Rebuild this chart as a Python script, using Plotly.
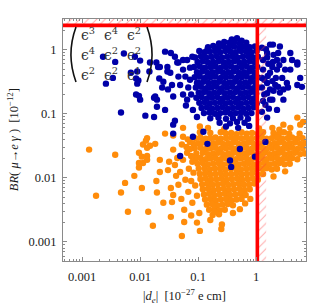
import plotly.graph_objects as go

# ---- data: values, as [log10 |d_e| (1e-27 e cm), log10 BR (1e-12)] ----
blue_sparse = [
    [-2.64,-0.11],[-2.43,-0.19],[-2.28,-0.06],[-2.09,-0.11],[-2.00,-0.17],[-2.16,-0.36],[-2.05,-0.34],
    [-2.47,-0.44],[-2.59,-0.53],[-2.07,-0.45],[-2.03,-0.48],[-2.05,-0.53],[-1.84,-0.34],[-1.83,-0.20],
    [-1.72,-0.20],[-1.69,-0.27],[-1.67,-0.45],[-2.07,-0.70],[-2.02,-0.72],[-2.00,-0.78],[-1.76,-0.75],
    [-1.71,-0.78],[-1.71,-0.89],[-2.33,-0.98],[-1.91,-1.03],[-1.76,-1.05],
    [-1.57,-0.03],[-1.47,-0.05],[-1.40,-0.11],[-1.66,-0.27],[-1.53,-0.27],[-1.34,-0.20],[-1.19,-0.16],
    [-1.10,-0.11],[-0.84,0.00],[-1.26,-0.31],[-1.48,-0.36],[-1.34,-0.42],[-1.60,-0.50],[-1.45,-0.55],
    [-1.31,-0.55],[-1.62,-0.59],[-1.52,-0.62],[-1.14,-0.47],[-1.26,-0.70],[-1.74,-0.73],[-1.02,-0.52],
    [-1.57,-0.94],[-1.40,-1.11],[-1.43,-1.17],[-1.43,-1.31],[-1.09,-1.36],[-0.84,-1.47],[-1.31,-1.66],
    [-0.52,-1.20],[-0.28,-1.55],[-0.02,-1.67],[-0.45,-1.73],[-0.43,-1.83],[0.16,-1.44],[-0.31,-1.22],
    [-0.12,-1.19],[-0.91,-1.28],[-1.53,-0.34],[-1.36,-0.20],[-1.26,-0.16],[-1.19,-0.78],[-1.09,-0.94],
    [-1.22,-0.42],[-1.02,-1.05],[-1.43,-0.73],[-1.17,-0.59],[-1.14,-0.28],[-1.21,-0.87],[-1.12,-0.70],
    [0.24,0.08],[0.29,0.08],[0.19,-0.05],[0.38,-0.05],[0.59,-0.05],[0.29,-0.19],[0.47,-0.16],
    [0.36,-0.31],[0.59,-0.31],[0.71,-0.23],[0.76,-0.44],[0.45,-0.44],[0.53,-0.52],[0.24,-0.36],
    [0.19,-0.52],[0.24,-0.62],[0.41,-0.67],[0.55,-0.59],[0.79,-0.58],[0.71,-0.20],[0.71,-0.55],
    [0.47,-0.78],[0.36,-0.94],[0.19,-1.06],[0.12,-0.16],[0.12,-0.31],[0.14,-0.47],[0.14,-0.70],
    [0.16,-0.86],[0.10,-0.97],[0.28,-0.78],[0.33,-0.55],[0.50,-0.31],[0.10,0.03],[0.41,0.05],
    [0.62,-0.16],[0.21,-0.22],[0.36,-0.16],[0.10,-0.59],[0.24,-0.78],[0.34,-0.44],[0.10,-0.44],
    [0.47,-0.62],[0.19,-0.12],[0.28,-0.27],[0.20,-0.41],[0.28,-0.49],[0.19,-0.68],[0.30,-0.64],
    [0.12,-0.80],[0.22,-0.92],[0.40,-0.24],[0.30,-0.08],[0.17,0.01],[0.38,-0.58],
]

blue_core = [
    [-0.42,0.16],[-0.33,0.18],[-0.25,0.14],
    [-0.64,0.10],[-0.55,0.12],[-0.46,0.11],[-0.37,0.12],[-0.28,0.10],[-0.17,0.11],
    [-0.83,0.04],[-0.74,0.06],[-0.65,0.03],[-0.56,0.05],[-0.47,0.04],[-0.38,0.05],[-0.29,0.03],
    [-0.20,0.05],[-0.11,0.04],[-0.02,0.05],
    [-0.98,-0.02],[-0.89,-0.04],[-0.80,-0.03],[-0.71,-0.02],[-0.62,-0.04],[-0.53,-0.02],[-0.44,-0.03],
    [-0.35,-0.04],[-0.26,-0.02],[-0.17,-0.03],[-0.08,-0.04],[0.01,-0.02],
    [-1.05,-0.12],[-0.95,-0.10],[-0.86,-0.12],[-0.77,-0.11],[-0.68,-0.10],[-0.59,-0.12],[-0.50,-0.11],
    [-0.41,-0.10],[-0.32,-0.12],[-0.23,-0.11],[-0.14,-0.10],[-0.05,-0.12],[0.03,-0.11],
    [-1.01,-0.19],[-0.92,-0.18],[-0.83,-0.20],[-0.74,-0.19],[-0.65,-0.18],[-0.56,-0.20],[-0.47,-0.19],
    [-0.38,-0.18],[-0.29,-0.20],[-0.20,-0.19],[-0.11,-0.18],[-0.02,-0.20],
    [-1.07,-0.27],[-0.97,-0.26],[-0.88,-0.28],[-0.79,-0.27],[-0.70,-0.26],[-0.61,-0.28],[-0.52,-0.27],
    [-0.43,-0.26],[-0.34,-0.28],[-0.25,-0.27],[-0.16,-0.26],[-0.07,-0.28],[0.02,-0.27],
    [-1.02,-0.35],[-0.93,-0.34],[-0.84,-0.36],[-0.75,-0.35],[-0.66,-0.34],[-0.57,-0.36],[-0.48,-0.35],
    [-0.39,-0.34],[-0.30,-0.36],[-0.21,-0.35],[-0.12,-0.34],[-0.03,-0.36],
    [-1.06,-0.43],[-0.97,-0.42],[-0.88,-0.44],[-0.79,-0.43],[-0.70,-0.42],[-0.61,-0.44],[-0.52,-0.43],
    [-0.43,-0.42],[-0.34,-0.44],[-0.25,-0.43],[-0.16,-0.42],[-0.07,-0.44],[0.02,-0.43],
    [-1.00,-0.51],[-0.91,-0.50],[-0.82,-0.52],[-0.73,-0.51],[-0.64,-0.50],[-0.55,-0.52],[-0.46,-0.51],
    [-0.37,-0.50],[-0.28,-0.52],[-0.19,-0.51],[-0.10,-0.50],[-0.01,-0.52],
    [-1.04,-0.59],[-0.95,-0.58],[-0.86,-0.60],[-0.77,-0.59],[-0.68,-0.58],[-0.59,-0.60],[-0.50,-0.59],
    [-0.41,-0.58],[-0.32,-0.60],[-0.23,-0.59],[-0.14,-0.58],[-0.05,-0.60],[0.03,-0.59],
    [-0.99,-0.67],[-0.90,-0.66],[-0.81,-0.68],[-0.72,-0.67],[-0.63,-0.66],[-0.54,-0.68],[-0.45,-0.67],
    [-0.36,-0.66],[-0.27,-0.68],[-0.18,-0.67],[-0.09,-0.66],[0.00,-0.68],
    [-1.03,-0.75],[-0.94,-0.74],[-0.85,-0.76],[-0.76,-0.75],[-0.67,-0.74],[-0.58,-0.76],[-0.49,-0.75],
    [-0.40,-0.74],[-0.31,-0.76],[-0.22,-0.75],[-0.13,-0.74],[-0.04,-0.76],
    [-0.98,-0.83],[-0.89,-0.82],[-0.80,-0.84],[-0.71,-0.83],[-0.62,-0.82],[-0.53,-0.84],[-0.44,-0.83],
    [-0.35,-0.82],[-0.26,-0.84],[-0.17,-0.83],[-0.08,-0.82],[0.01,-0.84],
    [-0.94,-0.91],[-0.85,-0.90],[-0.76,-0.92],[-0.67,-0.91],[-0.58,-0.90],[-0.49,-0.92],[-0.40,-0.91],
    [-0.31,-0.90],[-0.22,-0.92],[-0.13,-0.91],[-0.04,-0.90],
    [-0.90,-0.99],[-0.80,-0.98],[-0.71,-1.00],[-0.62,-0.99],[-0.53,-0.98],[-0.44,-1.00],[-0.35,-0.99],
    [-0.26,-0.98],[-0.17,-1.00],[-0.08,-0.99],
    [-0.79,-1.07],[-0.65,-1.06],[-0.52,-1.08],[-0.40,-1.07],[-0.27,-1.06],[-0.14,-1.08],
    [-0.63,-1.14],[-0.45,-1.15],[-0.33,-1.13],[-0.20,-1.14],
]

orange_sparse = [
    [-2.88,-1.56],[-2.43,-1.64],[-2.02,-1.61],[-2.02,-1.77],[-1.95,-1.77],[-1.95,-1.48],[-1.90,-1.42],
    [-1.88,-1.66],[-1.88,-1.72],[-2.02,-1.84],[-2.10,-1.97],[-2.26,-2.08],[-2.33,-2.23],[-2.21,-2.53],
    [-2.76,-2.28],[-1.97,-2.16],[-1.86,-2.53],[-1.72,-2.05],[-1.71,-2.23],[-1.78,-2.75],[-1.66,-1.91],
    [-1.83,-1.50],[-1.74,-1.47],[-1.60,-2.39],[-1.47,-2.61],[-1.45,-2.38],[-1.29,-2.33],[-1.24,-2.50],
    [-1.24,-2.69],[-1.12,-2.59],[-1.02,-2.70],[-0.98,-2.55],[-1.10,-2.39],[-1.43,-2.27],[-1.47,-2.16],
    [-1.26,-1.22],[-1.43,-1.34],[-1.57,-1.31],[-1.88,-1.38],[-1.43,-1.56],[-0.97,-1.20],[-0.83,-1.22],
    [-1.26,-1.36],[-1.28,-1.48],[-1.14,-1.44],[-1.36,-1.69],[-1.19,-1.61],[-1.88,-1.53],[-1.97,-1.67],
    [-1.66,-1.72],[-1.28,-2.91],[-0.97,-2.83],[-0.60,-2.80],[-0.40,-2.55],[-0.59,-2.73],[-1.40,-1.80],
    [-1.31,-1.91],[-1.22,-2.03],[-1.34,-2.11],[-1.17,-2.22],[-1.52,-1.88],[-1.38,-1.97],[-1.26,-1.72],
    [-1.50,-1.75],[0.71,-1.06],[0.76,-1.17],[0.47,-1.17],[0.28,-1.22],[0.59,-1.22],[0.81,-1.13],
    [-0.79,-2.66],[-0.71,-2.53],[-0.28,-2.49],[-0.19,-2.40],[-0.10,-2.33],
    [-0.55,-1.24],[0.05,-1.23],[0.40,-1.25],[-1.16,-1.86],[-1.12,-2.05],[0.50,-1.90],[0.30,-1.98],
    [-1.14,-1.55],[-1.12,-1.66],[-1.10,-1.75],[-1.08,-1.92],[-1.05,-2.12],[-1.02,-2.28],[-1.18,-1.40],
    [-1.20,-1.52],
]

orange_core = [
    [-0.97,-1.29],[-0.79,-1.30],[-0.61,-1.29],[-0.52,-1.31],[-0.43,-1.30],
    [-0.34,-1.32],[-0.25,-1.29],[-0.16,-1.31],[-0.07,-1.30],[0.03,-1.31],[0.12,-1.29],
    [0.30,-1.30],[0.39,-1.32],[0.48,-1.29],[0.57,-1.31],[0.75,-1.31],
    [-1.05,-1.38],[-0.96,-1.37],[-0.87,-1.39],[-0.79,-1.38],[-0.70,-1.37],[-0.61,-1.39],[-0.52,-1.38],
    [-0.43,-1.37],[-0.35,-1.39],[-0.26,-1.38],[-0.17,-1.37],[-0.08,-1.39],[0.01,-1.38],[0.10,-1.37],
    [0.18,-1.39],[0.27,-1.38],[0.36,-1.37],[0.45,-1.39],[0.54,-1.38],[0.62,-1.37],[0.71,-1.39],[0.80,-1.38],
    [-1.08,-1.47],[-1.00,-1.46],[-0.92,-1.45],[-0.83,-1.47],[-0.74,-1.46],[-0.65,-1.45],[-0.57,-1.47],
    [-0.48,-1.46],[-0.39,-1.45],[-0.30,-1.47],[-0.21,-1.46],[-0.13,-1.45],[-0.04,-1.47],[0.05,-1.46],
    [0.14,-1.45],[0.23,-1.47],[0.32,-1.46],[0.40,-1.45],[0.49,-1.47],[0.58,-1.46],[0.67,-1.45],
    [0.76,-1.47],[0.84,-1.46],
    [-1.06,-1.54],[-0.96,-1.53],[-0.87,-1.55],[-0.79,-1.54],[-0.70,-1.53],[-0.61,-1.55],[-0.52,-1.54],
    [-0.43,-1.53],[-0.35,-1.55],[-0.26,-1.54],[-0.17,-1.53],[-0.08,-1.55],[0.01,-1.54],[0.10,-1.53],
    [0.18,-1.55],[0.27,-1.54],[0.36,-1.53],[0.45,-1.55],[0.54,-1.54],[0.62,-1.53],[0.71,-1.55],[0.80,-1.54],
    [-1.03,-1.62],[-0.92,-1.61],[-0.83,-1.63],[-0.74,-1.62],[-0.65,-1.61],[-0.57,-1.63],[-0.48,-1.62],
    [-0.39,-1.61],[-0.30,-1.63],[-0.21,-1.62],[-0.13,-1.61],[-0.04,-1.63],[0.05,-1.62],[0.14,-1.61],
    [0.23,-1.63],[0.32,-1.62],[0.40,-1.61],[0.49,-1.63],[0.58,-1.62],[0.67,-1.61],[0.76,-1.63],[0.84,-1.62],
    [-1.04,-1.70],[-0.96,-1.69],[-0.87,-1.71],[-0.79,-1.70],[-0.70,-1.69],[-0.61,-1.71],[-0.52,-1.70],
    [-0.43,-1.69],[-0.35,-1.71],[-0.26,-1.70],[-0.17,-1.69],[-0.08,-1.71],[0.01,-1.70],[0.10,-1.69],
    [0.18,-1.71],[0.27,-1.70],[0.36,-1.69],[0.45,-1.71],[0.54,-1.70],[0.62,-1.69],[0.71,-1.71],
    [-1.01,-1.78],[-0.92,-1.77],[-0.83,-1.79],[-0.74,-1.78],[-0.65,-1.77],[-0.57,-1.79],[-0.48,-1.78],
    [-0.39,-1.77],[-0.30,-1.79],[-0.21,-1.78],[-0.13,-1.77],[-0.04,-1.79],[0.05,-1.78],[0.14,-1.77],
    [0.23,-1.79],[0.32,-1.78],[0.40,-1.77],[0.49,-1.79],[0.58,-1.78],
    [-0.99,-1.86],[-0.89,-1.85],[-0.80,-1.87],[-0.71,-1.86],[-0.62,-1.85],[-0.53,-1.87],[-0.44,-1.86],
    [-0.35,-1.85],[-0.26,-1.87],[-0.17,-1.86],[-0.08,-1.85],[0.01,-1.87],[0.10,-1.86],[0.18,-1.85],
    [0.27,-1.87],[0.36,-1.86],
    [-0.97,-1.94],[-0.88,-1.93],[-0.79,-1.95],[-0.70,-1.94],[-0.61,-1.93],[-0.52,-1.95],[-0.43,-1.94],
    [-0.34,-1.93],[-0.25,-1.95],[-0.16,-1.94],[-0.07,-1.93],[0.03,-1.95],[0.12,-1.94],
    [-0.96,-2.02],[-0.87,-2.01],[-0.78,-2.03],[-0.69,-2.02],[-0.60,-2.01],[-0.51,-2.03],[-0.42,-2.02],
    [-0.33,-2.01],[-0.24,-2.03],[-0.15,-2.02],[-0.06,-2.01],[0.03,-2.03],
    [-0.93,-2.10],[-0.84,-2.09],[-0.75,-2.11],[-0.66,-2.10],[-0.57,-2.09],[-0.48,-2.11],[-0.39,-2.10],
    [-0.30,-2.09],[-0.21,-2.11],[-0.12,-2.10],[-0.03,-2.09],
    [-0.92,-2.18],[-0.83,-2.17],[-0.74,-2.19],[-0.65,-2.18],[-0.56,-2.17],[-0.47,-2.19],[-0.38,-2.18],
    [-0.29,-2.17],[-0.20,-2.19],[-0.11,-2.18],
    [-0.90,-2.26],[-0.81,-2.25],[-0.72,-2.27],[-0.63,-2.26],[-0.54,-2.25],[-0.45,-2.27],[-0.36,-2.26],
    [-0.27,-2.25],[-0.18,-2.27],
    [-0.88,-2.34],[-0.79,-2.33],[-0.70,-2.35],[-0.61,-2.34],[-0.52,-2.33],[-0.43,-2.35],[-0.34,-2.34],
    [-0.25,-2.33],
    [-0.85,-2.42],[-0.76,-2.41],[-0.67,-2.43],[-0.58,-2.42],[-0.49,-2.41],[-0.40,-2.43],
    [-0.81,-2.50],[-0.72,-2.49],[-0.63,-2.51],[-0.54,-2.50],
    [-0.75,-2.58],[-0.64,-2.57],
]

meg_bound = 2.4      # BR(mu -> e gamma) limit, 1e-12
de_bound = 1.05      # |d_e| limit, 1e-27 e cm
x_tick_vals = [0.001, 0.01, 0.1, 1]
x_tick_text = ["0.001", "0.01", "0.1", "1"]
y_tick_vals = [0.001, 0.01, 0.1, 1]
y_tick_text = ["0.001", "0.01", "0.1", "1"]
x_log_range = [-3.33, 0.86]
y_log_range = [-3.30, 0.48]
matrix_entries = [["3", "4", "2"], ["4", "2", "2"], ["2", "2", "1"]]

BLUE = "#0000a8"
ORANGE = "#ff8c0a"
FONT = "Liberation Serif"


def unlog(pairs):
    return [10 ** p[0] for p in pairs], [10 ** p[1] for p in pairs]


fig = go.Figure()
ox, oy = unlog(orange_core + orange_sparse)
bx, by = unlog(blue_core + blue_sparse)
fig.add_trace(go.Scatter(x=ox, y=oy, mode="markers",
                         marker=dict(size=6.4, color=ORANGE, line=dict(width=0)), hoverinfo="skip"))
fig.add_trace(go.Scatter(x=bx, y=by, mode="markers",
                         marker=dict(size=6.4, color=BLUE, line=dict(width=0)), hoverinfo="skip"))

xlo, xhi = 10 ** (x_log_range[0] - 0.1), 10 ** (x_log_range[1] + 0.1)
ylo, yhi = 10 ** (y_log_range[0] - 0.1), 10 ** (y_log_range[1] + 0.1)
hatch = dict(shape="/", fgcolor="rgba(255,60,60,0.85)", bgcolor="rgba(255,255,255,0)", size=6, solidity=0.18)
# excluded regions (hatched)
fig.add_trace(go.Scatter(x=[xlo, xhi, xhi, xlo, xlo], y=[meg_bound, meg_bound, yhi, yhi, meg_bound],
                         fill="toself", mode="none", fillcolor="rgba(0,0,0,0)", fillpattern=hatch,
                         hoverinfo="skip"))
fig.add_trace(go.Scatter(x=[de_bound, de_bound * 1.42, de_bound * 1.42, de_bound, de_bound],
                         y=[ylo, ylo, meg_bound, meg_bound, ylo],
                         fill="toself", mode="none", fillcolor="rgba(0,0,0,0)", fillpattern=hatch,
                         hoverinfo="skip"))
# bound lines
fig.add_trace(go.Scatter(x=[xlo, xhi], y=[meg_bound, meg_bound], mode="lines",
                         line=dict(color="#ff0000", width=3.6), hoverinfo="skip"))
fig.add_trace(go.Scatter(x=[de_bound, de_bound], y=[ylo, yhi], mode="lines",
                         line=dict(color="#ff0000", width=3.6), hoverinfo="skip"))

axis_common = dict(type="log", showgrid=False, zeroline=False, showline=True, linecolor="#8a8a8a",
                   linewidth=1, mirror="ticks", ticks="inside", ticklen=4, tickcolor="#8a8a8a",
                   tickwidth=1, tickfont=dict(family=FONT, size=12.5, color="#1a1a1a"),
                   minor=dict(ticks="inside", ticklen=2, tickcolor="#8a8a8a", dtick="D1", showgrid=False))
fig.update_xaxes(range=x_log_range, tickvals=x_tick_vals, ticktext=x_tick_text,
                 ticklabelstandoff=4, **axis_common)
fig.update_yaxes(range=y_log_range, tickvals=y_tick_vals, ticktext=y_tick_text,
                 ticklabelstandoff=3, **axis_common)

annotations = [
    dict(text="<i>BR</i>(<i> μ</i>→<i>e γ</i> )  [10<sup>−12</sup>]", xref="paper", yref="paper",
         x=-0.205, y=0.5, textangle=-90, showarrow=False, xanchor="center", yanchor="middle",
         font=dict(family=FONT, size=12.5, color="#1a1a1a")),
    dict(text="|<i>d</i><sub><i>e</i></sub>|  [10<sup>−27</sup> e cm]", xref="paper", yref="paper",
         x=0.5, y=-0.145, showarrow=False, xanchor="center", yanchor="middle",
         font=dict(family=FONT, size=12.5, color="#1a1a1a")),
]
col_x = [0.103, 0.198, 0.292]
row_y = [0.938, 0.855, 0.773]
for i, row in enumerate(matrix_entries):
    for j, p in enumerate(row):
        annotations.append(dict(text="ϵ<sup>%s</sup>" % p, xref="paper", yref="paper",
                                x=col_x[j], y=row_y[i], showarrow=False, xanchor="center",
                                yanchor="middle", font=dict(family="DejaVu Serif", size=14, color="#333333")))

shapes = [
    dict(type="path", xref="paper", yref="paper", path="M 0.0535,0.967 Q 0.012,0.853 0.0535,0.740",
         line=dict(color="#111111", width=1.6), layer="above"),
    dict(type="path", xref="paper", yref="paper", path="M 0.3457,0.967 Q 0.387,0.853 0.3457,0.740",
         line=dict(color="#111111", width=1.6), layer="above"),
]

fig.update_layout(width=316, height=307, margin=dict(l=63, r=10, t=19, b=46),
                  paper_bgcolor="white", plot_bgcolor="white", showlegend=False,
                  annotations=annotations, shapes=shapes)
# remove the page's default 8px body margin so the figure fills the window exactly
fig.write_html("out.html", config={"displayModeBar": False},
               post_script="document.body.style.margin='0';document.body.style.overflow='hidden';")
